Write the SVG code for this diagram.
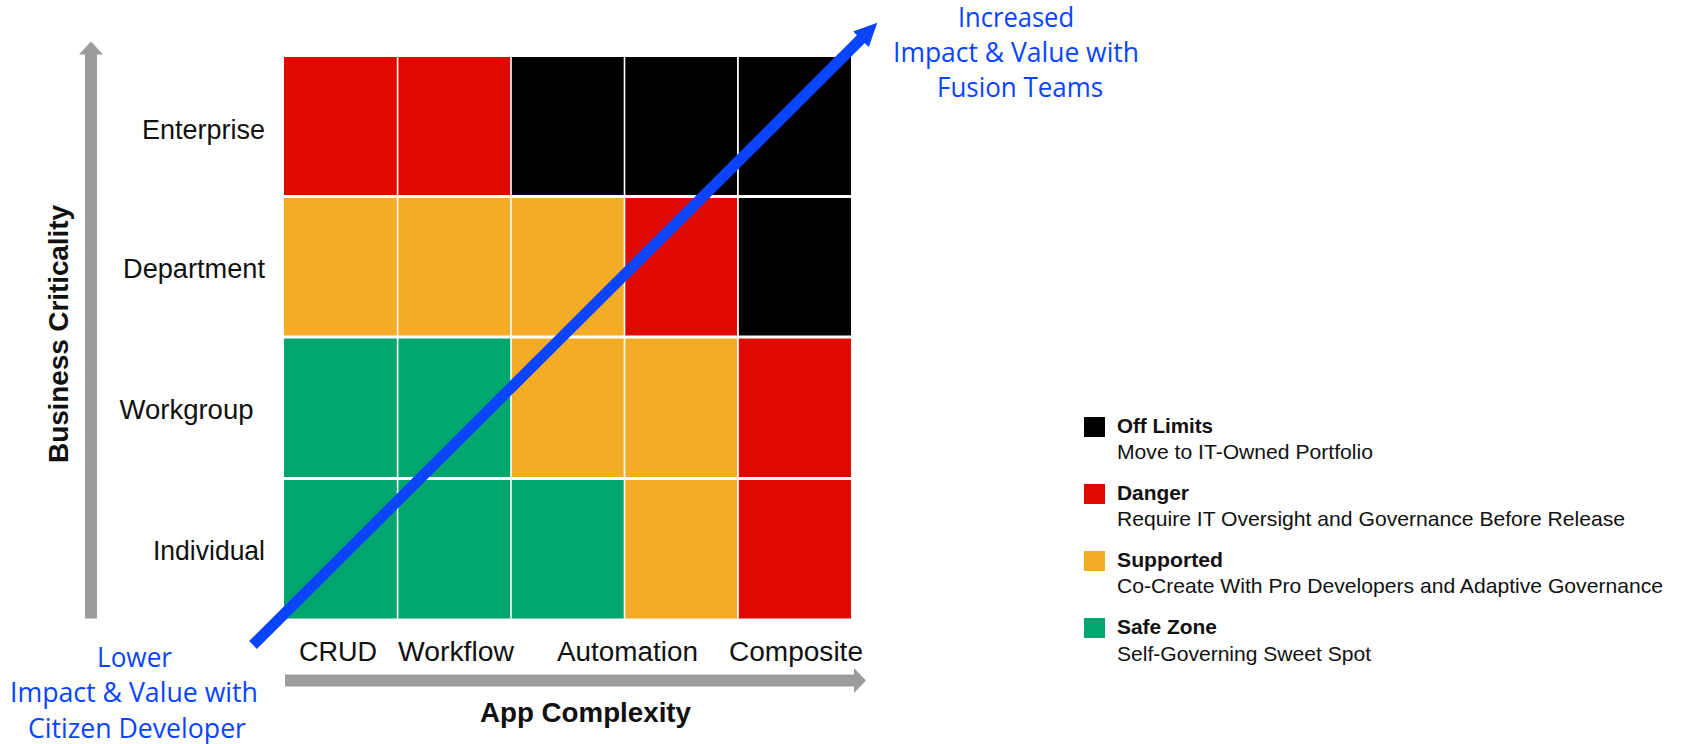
<svg xmlns="http://www.w3.org/2000/svg" width="1681" height="744" viewBox="0 0 1681 744">
  <style>
    .red{fill:#DE0A00}
    .org{fill:#F4AB26}
    .grn{fill:#00A66E}
    .blk{fill:#000000}
    .sep{fill:#FFFFFF}
    .axis{fill:#9A9D9C}
    .lbl{font-family:"Liberation Sans",Arial,sans-serif;font-size:27px;fill:#111111}
    .bold{font-family:"Liberation Sans",Arial,sans-serif;font-weight:bold;fill:#111111}
    .leg{font-family:"Liberation Sans",Arial,sans-serif;font-size:21px;fill:#111111}
    .legb{font-family:"Liberation Sans",Arial,sans-serif;font-size:21px;font-weight:bold;fill:#111111}
    .blue{font-family:"Open Sans","Noto Sans",sans-serif;font-size:28px;fill:#0A44FF}
  </style>
  <rect width="1681" height="744" fill="#FFFFFF"/>

  <g id="grid">
    <!-- Row 1: Enterprise -->
    <rect class="red" x="284" y="57" width="113.5" height="139.5"/>
    <rect class="red" x="397.5" y="57" width="113.5" height="139.5"/>
    <rect class="blk" x="511" y="57" width="113.5" height="139.5"/>
    <rect class="blk" x="624.5" y="57" width="113.5" height="139.5"/>
    <rect class="blk" x="738" y="57" width="113" height="139.5"/>
    <!-- Row 2: Department -->
    <rect class="org" x="284" y="196.5" width="113.5" height="140.5"/>
    <rect class="org" x="397.5" y="196.5" width="113.5" height="140.5"/>
    <rect class="org" x="511" y="196.5" width="113.5" height="140.5"/>
    <rect class="red" x="624.5" y="196.5" width="113.5" height="140.5"/>
    <rect class="blk" x="738" y="196.5" width="113" height="140.5"/>
    <!-- Row 3: Workgroup -->
    <rect class="grn" x="284" y="337" width="113.5" height="141.5"/>
    <rect class="grn" x="397.5" y="337" width="113.5" height="141.5"/>
    <rect class="org" x="511" y="337" width="113.5" height="141.5"/>
    <rect class="org" x="624.5" y="337" width="113.5" height="141.5"/>
    <rect class="red" x="738" y="337" width="113" height="141.5"/>
    <!-- Row 4: Individual -->
    <rect class="grn" x="284" y="478.5" width="113.5" height="140"/>
    <rect class="grn" x="397.5" y="478.5" width="113.5" height="140"/>
    <rect class="grn" x="511" y="478.5" width="113.5" height="140"/>
    <rect class="org" x="624.5" y="478.5" width="113.5" height="140"/>
    <rect class="red" x="738" y="478.5" width="113" height="140"/>
    <!-- separators -->
    <rect class="sep" x="396.8" y="57" width="1.6" height="561.5"/>
    <rect class="sep" x="510.2" y="57" width="1.6" height="561.5"/>
    <rect class="sep" x="623.7" y="57" width="1.6" height="561.5"/>
    <rect class="sep" x="737" y="57" width="1.8" height="561.5"/>
    <rect class="sep" x="284" y="195" width="567" height="3"/>
    <rect class="sep" x="284" y="335.5" width="567" height="3"/>
    <rect class="sep" x="284" y="477" width="567" height="3"/>
  </g>

  <g id="row-labels">
    <text class="lbl" x="265" y="138.5" text-anchor="end" textLength="123" lengthAdjust="spacingAndGlyphs">Enterprise</text>
    <text class="lbl" x="265" y="278" text-anchor="end" textLength="142" lengthAdjust="spacingAndGlyphs">Department</text>
    <text class="lbl" x="253.5" y="418.5" text-anchor="end" textLength="134" lengthAdjust="spacingAndGlyphs">Workgroup</text>
    <text class="lbl" x="265" y="560" text-anchor="end" textLength="112" lengthAdjust="spacingAndGlyphs">Individual</text>
  </g>

  <g id="column-labels">
    <text class="lbl" x="338" y="661" text-anchor="middle" textLength="78" lengthAdjust="spacingAndGlyphs">CRUD</text>
    <text class="lbl" x="456" y="661" text-anchor="middle" textLength="116" lengthAdjust="spacingAndGlyphs">Workflow</text>
    <text class="lbl" x="627.5" y="661" text-anchor="middle" textLength="141" lengthAdjust="spacingAndGlyphs">Automation</text>
    <text class="lbl" x="796" y="661" text-anchor="middle" textLength="134" lengthAdjust="spacingAndGlyphs">Composite</text>
  </g>

  <g id="axis-titles">
    <text class="bold" x="585.5" y="722" font-size="27" text-anchor="middle" textLength="211" lengthAdjust="spacingAndGlyphs">App Complexity</text>
    <text class="bold" transform="translate(68,334) rotate(-90)" x="0" y="0" font-size="28" text-anchor="middle" textLength="258" lengthAdjust="spacing">Business  Criticality</text>
  </g>

  <g id="blue-labels">
    <g id="label-increased">
      <text class="blue" x="1016" y="27" text-anchor="middle" textLength="116" lengthAdjust="spacingAndGlyphs">Increased</text>
      <text class="blue" x="1016" y="62" text-anchor="middle" textLength="246" lengthAdjust="spacingAndGlyphs">Impact &amp; Value with</text>
      <text class="blue" x="1020" y="97" text-anchor="middle" textLength="166" lengthAdjust="spacingAndGlyphs">Fusion Teams</text>
    </g>
    <g id="label-lower">
      <text class="blue" x="134.5" y="667" text-anchor="middle" textLength="75" lengthAdjust="spacingAndGlyphs">Lower</text>
      <text class="blue" x="134" y="702" text-anchor="middle" textLength="248" lengthAdjust="spacingAndGlyphs">Impact &amp; Value with</text>
      <text class="blue" x="137" y="738" text-anchor="middle" textLength="218" lengthAdjust="spacingAndGlyphs">Citizen Developer</text>
    </g>
  </g>

  <g id="legend">
    <g id="legend-off-limits">
      <rect class="blk" x="1084" y="417" width="21" height="20"/>
      <text class="legb" x="1117" y="433" textLength="96" lengthAdjust="spacingAndGlyphs">Off Limits</text>
      <text class="leg" x="1117" y="458.5" textLength="256" lengthAdjust="spacingAndGlyphs">Move to IT-Owned Portfolio</text>
    </g>
    <g id="legend-danger">
      <rect class="red" x="1084" y="484" width="21" height="20"/>
      <text class="legb" x="1117" y="500" textLength="72" lengthAdjust="spacingAndGlyphs">Danger</text>
      <text class="leg" x="1117" y="526" textLength="508" lengthAdjust="spacingAndGlyphs">Require IT Oversight and Governance Before Release</text>
    </g>
    <g id="legend-supported">
      <rect class="org" x="1084" y="551" width="21" height="20"/>
      <text class="legb" x="1117" y="567" textLength="106" lengthAdjust="spacingAndGlyphs">Supported</text>
      <text class="leg" x="1117" y="593" textLength="546" lengthAdjust="spacingAndGlyphs">Co-Create With Pro Developers and Adaptive Governance</text>
    </g>
    <g id="legend-safe-zone">
      <rect class="grn" x="1084" y="618" width="21" height="20"/>
      <text class="legb" x="1117" y="634" textLength="100" lengthAdjust="spacingAndGlyphs">Safe Zone</text>
      <text class="leg" x="1117" y="661" textLength="254" lengthAdjust="spacingAndGlyphs">Self-Governing Sweet Spot</text>
    </g>
  </g>

  <g id="connectors">
    <g id="y-axis-arrow">
      <rect class="axis" x="85" y="53" width="12" height="565.5"/>
      <polygon class="axis" points="79,54.5 91,41.5 103,54.5"/>
    </g>
    <g id="x-axis-arrow">
      <rect class="axis" x="285" y="674.5" width="570" height="12"/>
      <polygon class="axis" points="854,668 866,680.5 854,693"/>
    </g>
    <g id="value-arrow">
      <line x1="253" y1="645" x2="862" y2="38" stroke="#0A44FF" stroke-width="11" stroke-linecap="butt"/>
      <polygon points="877.3,22.7 853.2,31.4 868.8,46.9" fill="#0A44FF"/>
    </g>
  </g>
</svg>
